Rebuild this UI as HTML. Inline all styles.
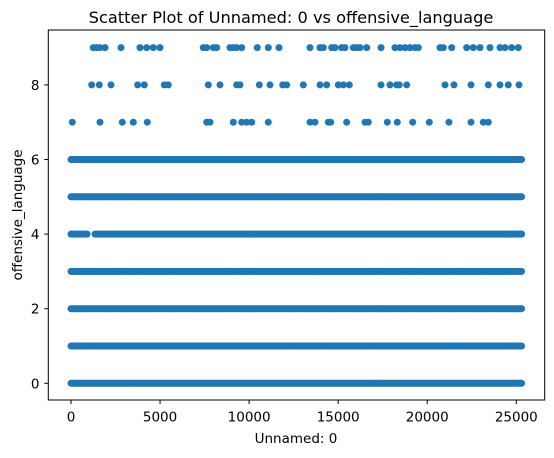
<!DOCTYPE html>
<html><head><meta charset="utf-8"><style>
body{margin:0;background:#fff;}
svg text{font-family:"DejaVu Sans","Liberation Sans",sans-serif;fill:#000;}
</style></head><body>
<svg id="chart" width="554" height="453" xmlns="http://www.w3.org/2000/svg">
<rect width="554" height="453" fill="#fff"/>
<text x="291" y="23" font-size="16.2" text-anchor="middle">Scatter Plot of Unnamed: 0 vs offensive_language</text>
<g id="points"></g>
<rect x="48.3" y="30" width="496.4" height="370" fill="none" stroke="#000" stroke-width="1"/>
<g id="xticks"></g>
<g id="yticks"></g>
<text x="296" y="443" font-size="13.5" text-anchor="middle">Unnamed: 0</text>
<text transform="translate(22,215) rotate(-90)" font-size="13.5" text-anchor="middle">offensive_language</text>
</svg>
<script>
// dense rows: [yValue, start, end]
const denseRows = [0, 1, 2, 3, 4, 4, 5, 6];
const denseStarts = [0, 0, 0, 0, 0, 1350, 0, 0];
const denseEnds = [25300, 25300, 25300, 25300, 900, 25300, 25300, 25300];
const row7 = [73,1628,2880,3497,4283,7618,7804,9111,9583,9864,10145,11076,13417,13698,14445,14580,15478,16505,16690,17757,18319,19183,20115,21221,22456,23146,23427];
const row8 = [1162,1589,2246,3745,4115,5238,5463,7708,8365,9302,9488,10571,11172,11885,12110,13041,13979,14355,15006,15287,15624,17403,17909,18285,18431,18846,20997,21502,22456,23427,24084,24550,25151];
const row9 = [1252,1443,1628,1909,2807,3874,4250,4620,4996,7427,7618,7989,8180,8926,9111,9302,9583,10459,11076,11677,13417,13979,14164,14636,14821,15197,15382,15848,16039,16224,16600,17403,18190,18470,18751,19032,19313,19498,20716,20902,21373,22215,22585,22961,23522,24084,24365,24741,25111];
const xTicks = [0, 5000, 10000, 15000, 20000, 25000];
const yTicks = [0, 2, 4, 6, 8];

const NS = "http://www.w3.org/2000/svg";
function xs(v){return 71 + v * 445.3 / 25000;}
function ys(v){return 383.3 - v * 37.3;}
const pg = document.getElementById('points');
function dot(x, y){
  const c = document.createElementNS(NS, 'circle');
  
  
  c.setAttribute('cx', xs(x).toFixed(1));
  c.setAttribute('cy', ys(y).toFixed(1));
  c.setAttribute('r', '3.5');
  c.setAttribute('fill', '#1f77b4');
  pg.appendChild(c);
}
for (let i = 0; i < denseRows.length; i++) {
  for (let x = denseStarts[i]; x <= denseEnds[i]; x += 60) dot(x, denseRows[i]);
  dot(denseEnds[i], denseRows[i]);
}
row7.forEach(v => dot(v, 7));
row8.forEach(v => dot(v, 8));
row9.forEach(v => dot(v, 9));

const xg = document.getElementById('xticks');
xTicks.forEach(t => {
  const l = document.createElementNS(NS, 'line');
  
  
  l.setAttribute('x1', xs(t)); l.setAttribute('x2', xs(t));
  l.setAttribute('y1', 400); l.setAttribute('y2', 404);
  l.setAttribute('stroke', '#000');
  xg.appendChild(l);
  const tx = document.createElementNS(NS, 'text');
  
  
  tx.setAttribute('x', xs(t)); tx.setAttribute('y', 421.5);
  tx.setAttribute('font-size', '13.5');
  tx.setAttribute('text-anchor', 'middle');
  tx.textContent = t;
  xg.appendChild(tx);
});
const yg = document.getElementById('yticks');
yTicks.forEach(t => {
  const l = document.createElementNS(NS, 'line');
  
  
  l.setAttribute('x1', 44.3); l.setAttribute('x2', 48.3);
  l.setAttribute('y1', ys(t)); l.setAttribute('y2', ys(t));
  l.setAttribute('stroke', '#000');
  yg.appendChild(l);
  const tx = document.createElementNS(NS, 'text');
  
  
  tx.setAttribute('x', 39.5); tx.setAttribute('y', ys(t) + 5);
  tx.setAttribute('font-size', '13.5');
  tx.setAttribute('text-anchor', 'end');
  tx.textContent = t;
  yg.appendChild(tx);
});
</script>
</body></html>
